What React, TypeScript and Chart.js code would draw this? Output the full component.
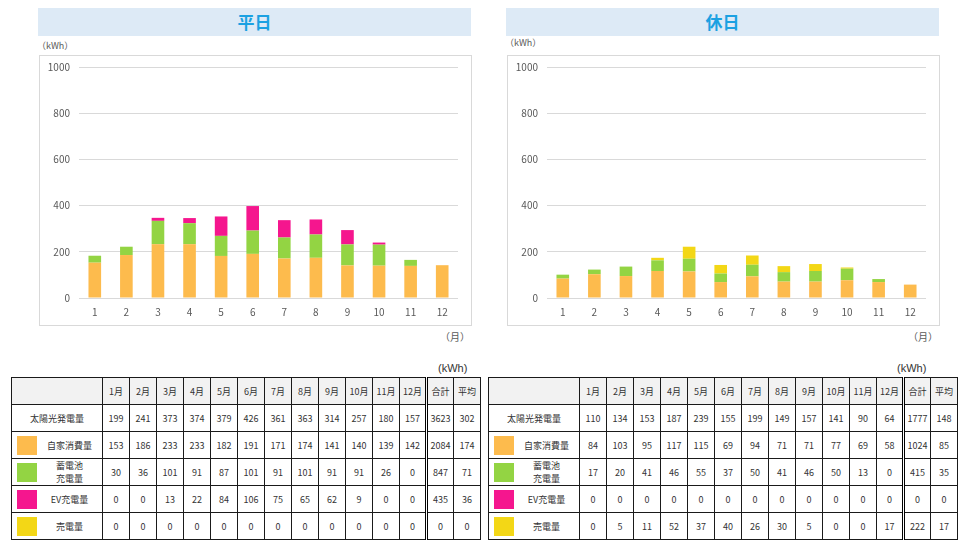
import React, { useEffect, useRef } from "react";
import { Chart, registerables } from "chart.js";

Chart.register(...registerables);

const months = ["1", "2", "3", "4", "5", "6", "7", "8", "9", "10", "11", "12"];
const monthHeaders = ["1月", "2月", "3月", "4月", "5月", "6月", "7月", "8月", "9月", "10月", "11月", "12月"];
const yTicks = [0, 200, 400, 600, 800, 1000];

const seriesNames = ["自家消費量", "蓄電池\n充電量", "EV充電量", "売電量"];
const seriesColors = ["#FDBB4D", "#93D443", "#F5168E", "#F3D716"];

// 平日
const weekdaySolar = [199, 241, 373, 374, 379, 426, 361, 363, 314, 257, 180, 157];
const weekdaySelf = [153, 186, 233, 233, 182, 191, 171, 174, 141, 140, 139, 142];
const weekdayBattery = [30, 36, 101, 91, 87, 101, 91, 101, 91, 91, 26, 0];
const weekdayEV = [0, 0, 13, 22, 84, 106, 75, 65, 62, 9, 0, 0];
const weekdaySell = [0, 0, 0, 0, 0, 0, 0, 0, 0, 0, 0, 0];
const weekdayTotals = [3623, 2084, 847, 435, 0];
const weekdayAverages = [302, 174, 71, 36, 0];

// 休日
const holidaySolar = [110, 134, 153, 187, 239, 155, 199, 149, 157, 141, 90, 64];
const holidaySelf = [84, 103, 95, 117, 115, 69, 94, 71, 71, 77, 69, 58];
const holidayBattery = [17, 20, 41, 46, 55, 37, 50, 41, 46, 50, 13, 0];
const holidayEV = [0, 0, 0, 0, 0, 0, 0, 0, 0, 0, 0, 0];
const holidaySell = [0, 5, 11, 52, 37, 40, 26, 30, 5, 0, 0, 17];
// 売電量 as drawn in the 休日 chart
const holidaySellChart = [0, 0, 0, 11, 52, 37, 40, 26, 30, 5, 0, 0];
const holidayTotals = [1777, 1024, 415, 0, 222];
const holidayAverages = [148, 85, 35, 0, 17];

const FONT = "'Noto Sans CJK JP', 'Noto Sans', sans-serif";

function BarChart({ series }: { series: number[][] }) {
  const ref = useRef<HTMLCanvasElement | null>(null);
  useEffect(() => {
    if (!ref.current) return;
    const chart = new Chart(ref.current, {
      type: "bar",
      data: {
        labels: months,
        datasets: series.map((d, i) => ({
          label: seriesNames[i],
          data: d,
          backgroundColor: seriesColors[i],
          borderWidth: 0,
          barPercentage: 0.4,
          categoryPercentage: 1,
        })),
      },
      options: {
        animation: false,
        responsive: false,
        maintainAspectRatio: false,
        layout: { padding: { top: 11, right: 13, bottom: 0, left: 0 } },
        plugins: { legend: { display: false }, tooltip: { enabled: false } },
        scales: {
          x: {
            stacked: true,
            grid: { display: false, drawTicks: false },
            border: { display: false },
            ticks: { color: "#595959", font: { family: FONT, size: 10 }, padding: 8 },
            afterFit: (s: any) => {
              s.height = 27;
              s.paddingLeft = 0;
              s.paddingRight = 0;
            },
          },
          y: {
            stacked: true,
            min: 0,
            max: 1000,
            afterBuildTicks: (s: any) => {
              s.ticks = yTicks.map((v) => ({ value: v }));
            },
            grid: { color: "#D9D9D9", drawTicks: false, lineWidth: 1 },
            border: { display: false },
            ticks: {
              color: "#595959",
              font: { family: FONT, size: 10 },
              padding: 9,
              callback: (v: any) => String(v),
            },
            afterFit: (s: any) => {
              s.width = 39;
              s.paddingTop = 0;
              s.paddingBottom = 0;
            },
          },
        },
      },
    });
    return () => chart.destroy();
  }, [series]);
  return <canvas ref={ref} width={431} height={269} style={{ width: 431, height: 269, display: "block" }} />;
}

function Panel({ left, title, series, kwhTop }: { left: number; title: string; series: number[][]; kwhTop: number }) {
  return (
    <>
      <div
        style={{
          position: "absolute",
          left: left - 1,
          top: 8,
          width: 433,
          height: 28,
          background: "#DDEAF6",
          color: "#1BA1E2",
          fontFamily: FONT,
          fontWeight: 700,
          fontSize: 17,
          lineHeight: "28px",
          textAlign: "center",
        }}
      >
        {title}
      </div>
      <div
        style={{
          position: "absolute",
          left: left - 2,
          top: kwhTop,
          fontFamily: FONT,
          fontSize: 9,
          color: "#595959",
          lineHeight: "12px",
          whiteSpace: "nowrap",
        }}
      >
        （kWh）
      </div>
      <div
        style={{
          position: "absolute",
          left: left,
          top: 55,
          width: 433,
          height: 271,
          border: "1px solid #D9D9D9",
          boxSizing: "border-box",
        }}
      >
        <BarChart series={series} />
      </div>
      <div
        style={{
          position: "absolute",
          left: left + 401,
          top: 330,
          fontFamily: FONT,
          fontSize: 10,
          color: "#595959",
          lineHeight: "14px",
          whiteSpace: "nowrap",
        }}
      >
        （月）
      </div>
    </>
  );
}

const cellBase: React.CSSProperties = {
  border: "1px solid #1a1a1a",
  padding: 0,
  height: 26,
  textAlign: "center",
  verticalAlign: "middle",
  fontSize: 9,
  color: "#333",
  fontFamily: FONT,
};

function DataTable({
  left,
  unitLeft,
  solar,
  rows,
  totals,
  averages,
}: {
  left: number;
  unitLeft: number;
  solar: number[];
  rows: number[][];
  totals: number[];
  averages: number[];
}) {
  const allRows = [solar, ...rows];
  const labels = ["太陽光発電量", ...seriesNames];
  return (
    <>
      <div
        style={{
          position: "absolute",
          left: unitLeft,
          top: 361,
          fontFamily: "'Liberation Sans', Arial, sans-serif",
          fontSize: 11,
          color: "#333",
          lineHeight: "14px",
        }}
      >
        (kWh)
      </div>
      <table
        style={{
          position: "absolute",
          left: left,
          top: 377,
          width: 469,
          borderCollapse: "collapse",
          tableLayout: "fixed",
          border: "1px solid #000",
        }}
      >
        <colgroup>
          <col style={{ width: 91 }} />
          {monthHeaders.map((m) => (
            <col key={m} style={{ width: 27 }} />
          ))}
          <col style={{ width: 27 }} />
          <col style={{ width: 27 }} />
        </colgroup>
        <tbody>
          <tr style={{ background: "#F2F2F2" }}>
            <td style={cellBase}></td>
            {monthHeaders.map((m) => (
              <td key={m} style={cellBase}>
                {m}
              </td>
            ))}
            <td style={{ ...cellBase, borderLeft: "3px double #000" }}>合計</td>
            <td style={cellBase}>平均</td>
          </tr>
          {allRows.map((r, ri) => (
            <tr key={ri}>
              <td style={cellBase}>
                {ri === 0 ? (
                  labels[0]
                ) : (
                  <div style={{ display: "flex", alignItems: "center", height: 26 }}>
                    <div
                      style={{
                        width: 20,
                        height: 19,
                        marginLeft: 5,
                        background: seriesColors[ri - 1],
                        flex: "none",
                      }}
                    />
                    <div style={{ flex: 1, textAlign: "center", whiteSpace: "pre-line", lineHeight: "13px" }}>
                      {labels[ri]}
                    </div>
                  </div>
                )}
              </td>
              {r.map((v, i) => (
                <td key={i} style={cellBase}>
                  {v}
                </td>
              ))}
              <td style={{ ...cellBase, borderLeft: "3px double #000" }}>{totals[ri]}</td>
              <td style={cellBase}>{averages[ri]}</td>
            </tr>
          ))}
        </tbody>
      </table>
    </>
  );
}

export default function App() {
  const weekdaySeries = [weekdaySelf, weekdayBattery, weekdayEV, weekdaySell];
  const holidayTableRows = [holidaySelf, holidayBattery, holidayEV, holidaySell];
  const holidayChartSeries = [holidaySelf, holidayBattery, holidayEV, holidaySellChart];
  return (
    <div style={{ position: "absolute", left: 0, top: 0, width: 963, height: 551, background: "#fff", overflow: "hidden" }}>
      <Panel left={39} title="平日" series={weekdaySeries} kwhTop={40} />
      <Panel left={507} title="休日" series={holidayChartSeries} kwhTop={37} />
      <DataTable left={11} unitLeft={438} solar={weekdaySolar} rows={weekdaySeries} totals={weekdayTotals} averages={weekdayAverages} />
      <DataTable left={488} unitLeft={897} solar={holidaySolar} rows={holidayTableRows} totals={holidayTotals} averages={holidayAverages} />
    </div>
  );
}
